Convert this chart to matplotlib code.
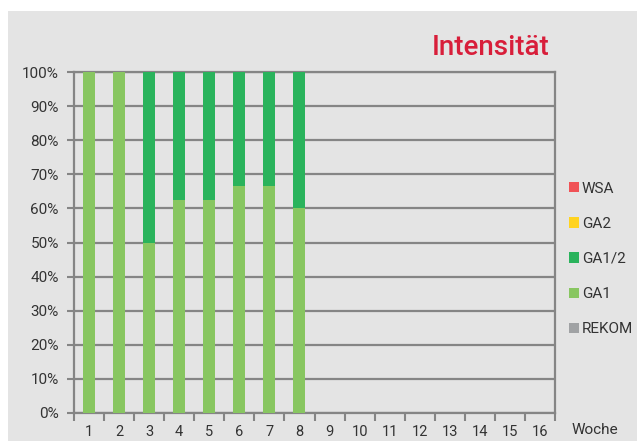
import numpy as np
import matplotlib.pyplot as plt
from matplotlib.patches import Rectangle, Patch

# data (Anteile in %)
weeks = list(range(1, 17))
rekom = [0, 0, 0, 0, 0, 0, 0, 0, 0, 0, 0, 0, 0, 0, 0, 0]
ga1 = [100, 100, 50, 62.5, 62.5, 66.7, 66.7, 60, 0, 0, 0, 0, 0, 0, 0, 0]
ga12 = [0, 0, 50, 37.5, 37.5, 33.3, 33.3, 40, 0, 0, 0, 0, 0, 0, 0, 0]
ga2 = [0] * 16
wsa = [0] * 16

series = [
    ('REKOM', rekom, '#a0a2a4'),
    ('GA1', ga1, '#88c661'),
    ('GA1/2', ga12, '#2ab35c'),
    ('GA2', ga2, '#ffd320'),
    ('WSA', wsa, '#f05256'),
]

plt.rcParams['font.family'] = ['Roboto', 'DejaVu Sans']

fig = plt.figure(figsize=(6.37, 4.41), dpi=100)
fig.patches.append(Rectangle((8 / 637, 0), 1, 1 - 11 / 441, transform=fig.transFigure,
                             facecolor='#e4e4e4', edgecolor='none', zorder=-10))

ax = fig.add_axes([74 / 637, 28 / 441, 481 / 637, 341 / 441])
ax.set_facecolor('none')

x = np.array(weeks)
bottom = np.zeros(len(weeks))
for name, vals, col in series:
    vals = np.array(vals, dtype=float)
    ax.bar(x, vals, width=0.4, bottom=bottom, color=col, zorder=3, linewidth=0)
    bottom += vals

ax.set_xlim(0.5, 16.5)
ax.set_ylim(0, 100)

gcol = '#858585'
tcol = '#333333'
fs = 11
ax.set_yticks(np.arange(0, 101, 10))
ax.set_yticklabels([f'{v}%' for v in range(0, 101, 10)])
ax.yaxis.grid(True, color=gcol, linewidth=1.6, zorder=1)
ax.set_axisbelow(True)

ax.set_xticks(np.arange(0.5, 17, 1))
ax.set_xticklabels([])
ax.set_xticks(x, minor=True)
ax.set_xticklabels([str(w) for w in weeks], minor=True)
ax.tick_params(axis='x', which='major', length=6, width=1.5, color=gcol, direction='out')
ax.tick_params(axis='x', which='minor', length=0, pad=9, labelsize=10.5, labelcolor=tcol)
ax.tick_params(axis='y', length=5, width=1.5, color=gcol, labelsize=fs, labelcolor=tcol, pad=6)

for s in ['left', 'right', 'bottom', 'top']:
    ax.spines[s].set_color(gcol)
    ax.spines[s].set_linewidth(1.6)

fig.text(595 / 637, 1 - 430 / 441, 'Woche', ha='center', va='center', fontsize=11, color=tcol)
fig.text(549 / 637, 1 - 55 / 441, 'Intensität', ha='right', va='baseline', fontsize=20,
         fontweight='medium', color='#d81e3a')

handles = [Patch(facecolor=col, edgecolor='none') for _, _, col in series[::-1]]
labels = [name for name, _, _ in series[::-1]]
fig.legend(handles, labels, loc='upper left', bbox_to_anchor=(555 / 637, 1 - 168 / 441),
           frameon=False, fontsize=11, handlelength=0.65, handleheight=0.65,
           handletextpad=0.2, labelspacing=1.38, labelcolor=tcol)

fig.savefig('out.png', dpi=100)
